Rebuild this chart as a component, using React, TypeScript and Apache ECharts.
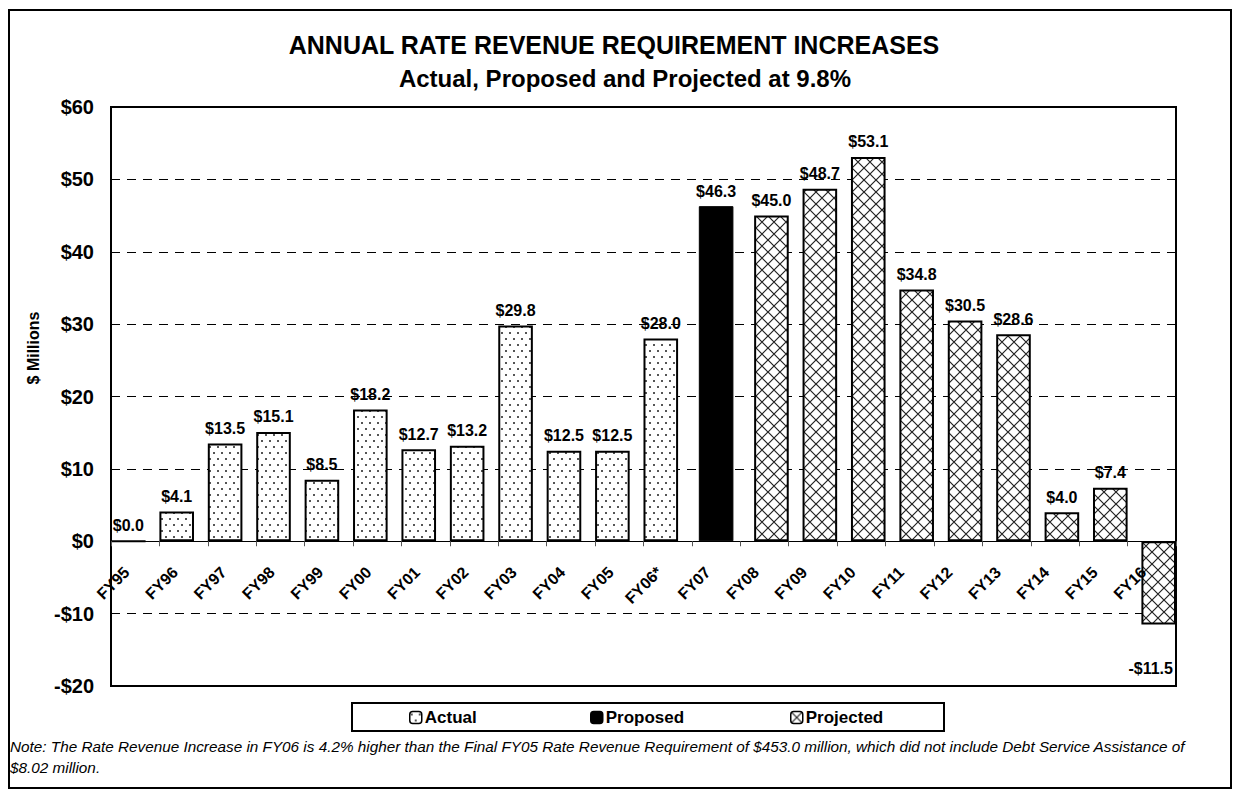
import React, { useEffect, useRef } from "react";
import * as echarts from "echarts";

const categories = ["FY95","FY96","FY97","FY98","FY99","FY00","FY01","FY02","FY03","FY04","FY05","FY06*","FY07","FY08","FY09","FY10","FY11","FY12","FY13","FY14","FY15","FY16"];
const actualValues = [0.0, 4.1, 13.5, 15.1, 8.5, 18.2, 12.7, 13.2, 29.8, 12.5, 12.5, 28.0];
const proposedValues = [46.3];
const projectedValues = [45.0, 48.7, 53.1, 34.8, 30.5, 28.6, 4.0, 7.4, -11.5];
const yTicks = [-20, -10, 0, 10, 20, 30, 40, 50, 60];
const seriesNames = ["Actual", "Proposed", "Projected"];

const FONT = "'Liberation Sans', Arial, sans-serif";

function dotPattern() {
  const c = document.createElement("canvas");
  c.width = 8; c.height = 12;
  const ctx = c.getContext("2d")!;
  ctx.fillStyle = "#fff"; ctx.fillRect(0, 0, 8, 12);
  ctx.fillStyle = "#555";
  ctx.fillRect(1, 2, 2, 2);
  ctx.fillRect(5, 8, 2, 2);
  return c;
}
function hatchPattern() {
  const c = document.createElement("canvas");
  c.width = 12; c.height = 12;
  const ctx = c.getContext("2d")!;
  ctx.fillStyle = "#fff"; ctx.fillRect(0, 0, 12, 12);
  ctx.strokeStyle = "#222"; ctx.lineWidth = 1.2;
  ctx.beginPath();
  ctx.moveTo(0, 0); ctx.lineTo(12, 12);
  ctx.moveTo(12, 0); ctx.lineTo(0, 12);
  ctx.stroke();
  return c;
}

function fmt(v: number) {
  return (v < 0 ? "-$" : "$") + Math.abs(v).toFixed(1);
}

export default function App() {
  const ref = useRef<HTMLDivElement>(null);
  useEffect(() => {
    document.body.style.margin = "0";
    const chart = echarts.init(ref.current!, null, { renderer: "svg" });
    const nA = actualValues.length;
    const nP = proposedValues.length;
    const toItem = (v: number) =>
      v < 0 ? { value: v, label: { position: "bottom", distance: 36, offset: [-8, 0] } } : { value: v };
    const actualData = categories.map((_, i) => (i < nA ? toItem(actualValues[i]) : null));
    const proposedData = categories.map((_, i) => (i >= nA && i < nA + nP ? toItem(proposedValues[i - nA]) : null));
    const projectedData = categories.map((_, i) => (i >= nA + nP ? toItem(projectedValues[i - nA - nP]) : null));

    const dots = { image: dotPattern(), repeat: "repeat" };
    const hatch = { image: hatchPattern(), repeat: "repeat" };

    const label = {
      show: true,
      position: "top",
      distance: 7,
      formatter: (p: any) => fmt(p.value),
      fontFamily: FONT,
      fontWeight: "bold",
      fontSize: 16,
      color: "#000",
    };
    const common = {
      type: "bar",
      barWidth: 34.6,
      barGap: "-80%",
      label,
      silent: true,
    };
    const legendLefts = [409, 590, 790];

    chart.setOption({
      animation: false,
      grid: { left: 111, right: 57, top: 107, bottom: 106, show: true, borderColor: "#000", borderWidth: 2, backgroundColor: "#fff" },
      xAxis: {
        type: "category",
        data: categories,
        z: 5,
        axisLine: { onZero: true, lineStyle: { color: "#000", width: 1 } },
        axisTick: { show: true, length: 5, lineStyle: { color: "#555" }, alignWithLabel: false },
        axisLabel: { interval: 0, rotate: 45, margin: -125, padding: [0, 12, 0, 0], fontFamily: FONT, fontWeight: "bold", fontSize: 16, color: "#000" },
        splitLine: { show: false },
      },
      yAxis: {
        type: "value",
        min: yTicks[0],
        max: yTicks[yTicks.length - 1],
        interval: 10,
        axisLine: { show: true, lineStyle: { color: "#000", width: 2 } },
        axisTick: { show: false },
        axisLabel: {
          margin: 17,
          formatter: (v: number) => (v < 0 ? "-$" + -v : "$" + v),
          fontFamily: FONT, fontWeight: "bold", fontSize: 20, color: "#000",
        },
        splitLine: { show: true, lineStyle: { color: "#000", type: [9, 7], width: 1 } },
      },
      legend: seriesNames.map((nm, i) => ({
        data: [nm],
        left: legendLefts[i],
        top: 709,
        padding: 0,
        itemWidth: 12,
        itemHeight: 12,
        selectedMode: false,
        itemStyle: { borderColor: "#000", borderWidth: 1.5 },
        textStyle: { fontFamily: FONT, fontWeight: "bold", fontSize: 17, color: "#000", padding: [0, 0, 0, -2] },
      })),
      series: [
        { ...common, name: seriesNames[0], data: actualData, itemStyle: { color: dots, borderColor: "#000", borderWidth: 2 } },
        { ...common, name: seriesNames[1], data: proposedData, itemStyle: { color: "#000", borderColor: "#000", borderWidth: 1 } },
        { ...common, name: seriesNames[2], data: projectedData, itemStyle: { color: hatch, borderColor: "#000", borderWidth: 2 } },
      ],
      graphic: [
        { type: "rect", shape: { x: 9, y: 10, width: 1222, height: 778 }, style: { fill: "none", stroke: "#000", lineWidth: 2 }, z: 100 },
        { type: "rect", shape: { x: 352, y: 703, width: 592, height: 28 }, style: { fill: "none", stroke: "#000", lineWidth: 2 }, z: 100 },
        { type: "text", x: 614, y: 45, style: { text: "ANNUAL RATE REVENUE REQUIREMENT INCREASES", align: "center", verticalAlign: "middle", font: `bold 25px ${FONT}`, fill: "#000" } },
        { type: "text", x: 625, y: 78, style: { text: "Actual, Proposed and Projected at 9.8%", align: "center", verticalAlign: "middle", font: `bold 24px ${FONT}`, fill: "#000" } },
        { type: "text", x: 33, y: 348, rotation: Math.PI / 2, style: { text: "$ Millions", align: "center", verticalAlign: "middle", font: `bold 16px ${FONT}`, fill: "#000" } },
        { type: "text", x: 10, y: 736, style: { text: "Note: The Rate Revenue Increase in FY06 is 4.2% higher than the Final FY05 Rate Revenue Requirement of $453.0 million, which did not include Debt Service Assistance of\n$8.02 million.", align: "left", verticalAlign: "top", font: `italic 15.3px ${FONT}`, lineHeight: 21, fill: "#000" } },
      ],
    });
    return () => chart.dispose();
  }, []);
  return <div ref={ref} style={{ width: 1233, height: 792 }} />;
}
